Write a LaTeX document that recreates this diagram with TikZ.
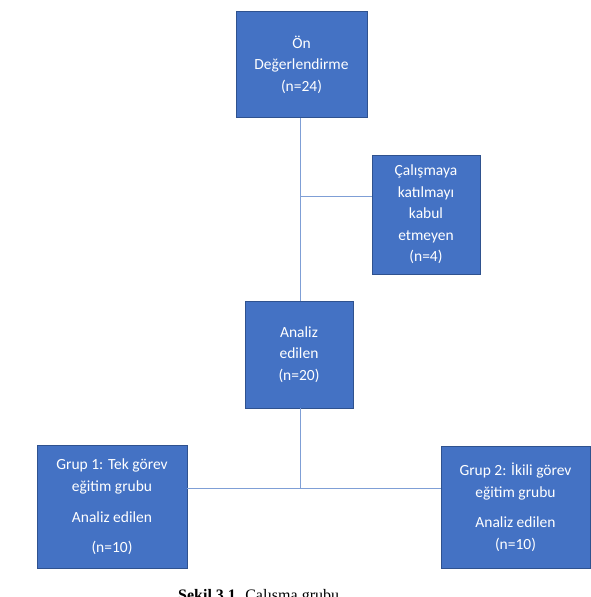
\documentclass[tikz,border=0pt]{standalone}
\usepackage{fontspec}
\setmainfont{Carlito}
\newfontfamily\capfont{Liberation Serif}
\definecolor{boxfill}{HTML}{4472C4}
\definecolor{boxline}{HTML}{2F528F}
\definecolor{linkline}{HTML}{7F9FD6}
\tikzset{
  box/.style={draw=boxline, fill=boxfill, line width=0.9pt, text=white, align=center,
    inner sep=0pt, font=\fontsize{15.5}{21.5}\selectfont},
  link/.style={draw=linkline, line width=0.9pt}
}
\begin{document}
\begin{tikzpicture}[x=1pt, y=-1pt]
  \useasboundingbox (0,0) rectangle (591,597);
  % Coordinates
  \coordinate (A) at (301.5, 64.5);
  \coordinate (B) at (426, 214.5);
  \coordinate (C) at (299, 354.5);
  \coordinate (D) at (112, 506.5);
  \coordinate (E) at (515.5, 507);
  \coordinate (K) at (300, 196);
  \coordinate (J) at (300, 488);
  \coordinate (L) at (178, 600);

  % Drawing
  \node[box, minimum width=131pt, minimum height=106pt] (on) at (A) {Ön\\Değerlendirme\\(n=24)};
  \node[box, minimum width=108pt, minimum height=119pt] (calisma) at (B)
    {Çalışmaya\\katılmayı\\kabul\\etmeyen\\(n=4)};
  \node[box, minimum width=108pt, minimum height=107pt] (analiz) at (C) {Analiz\\edilen\\(n=20)};
  \node[box, minimum width=150pt, minimum height=123pt] (grup1) at (D)
    {Grup 1: Tek görev\\eğitim grubu\\[10pt]Analiz edilen\\[8pt](n=10)};
  \node[box, minimum width=149pt, minimum height=122pt] (grup2) at (E)
    {Grup 2: İkili görev\\eğitim grubu\\[9pt]Analiz edilen\\(n=10)};
  \draw[link] (K |- on.south) -- (K |- analiz.north);
  \draw[link] (K) -- (K -| calisma.west);
  \draw[link] (J |- analiz.south) -- (J);
  \draw[link] (grup1.east |- J) -- (grup2.west |- J);
  \node[anchor=base west, inner sep=0pt, font=\capfont\fontsize{16}{19}\selectfont] (caption) at (L)
    {\textbf{Şekil 3.1.} Çalışma grubu};
\end{tikzpicture}
\end{document}
